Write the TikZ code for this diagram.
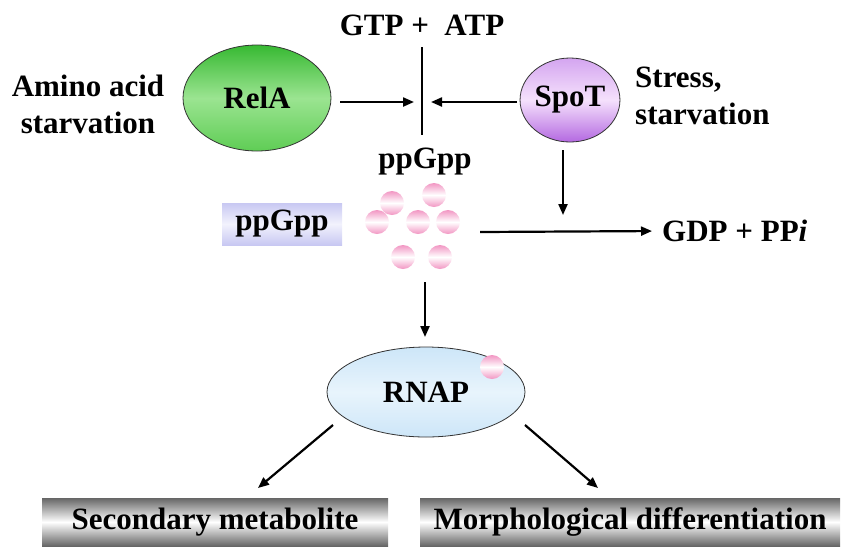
\documentclass[tikz,border=0pt]{standalone}
\usepackage{fontspec}
\setmainfont{Liberation Serif}
\usetikzlibrary{arrows.meta,shapes.geometric}
\definecolor{relatop}{RGB}{55,185,50}
\definecolor{relamid}{RGB}{155,228,145}
\definecolor{relabot}{RGB}{95,205,85}
\definecolor{spottop}{RGB}{212,165,240}
\definecolor{spotmid}{RGB}{245,225,252}
\definecolor{spotbot}{RGB}{180,105,225}
\definecolor{keyedge}{RGB}{200,200,242}
\definecolor{keymid}{RGB}{242,242,253}
\definecolor{rnapedge}{RGB}{205,230,248}
\definecolor{rnapmid}{RGB}{232,244,252}
\definecolor{ballpink}{RGB}{242,150,195}
\tikzset{
  lbl/.style={font=\fontsize{31}{37}\selectfont\bfseries, inner sep=0pt},
  arr/.style={line width=2.2pt, -{Triangle[length=11pt,width=9pt]}},
  ball/.style={shading=axis, top color=ballpink, bottom color=ballpink, middle color=white},
  metal/.style={shading=axis, top color=black!60, bottom color=black!60, middle color=white}
}
\begin{document}
\begin{tikzpicture}[x=1pt,y=-1pt]
  \useasboundingbox (0,0) rectangle (845,547);
  %%%%% START %%%%%

  % enzymes
  \node[lbl, ellipse, minimum width=148pt, minimum height=106pt, draw=black!80, line width=0.8pt,
        top color=relatop, bottom color=relabot, middle color=relamid] (rela) at (257,98) {RelA};
  \node[lbl, ellipse, minimum width=95pt, minimum height=84pt, draw=black!80, line width=0.8pt,
        top color=spottop, bottom color=spotbot, middle color=spotmid] (spot) at (570,100) {SpoT};
  \node[lbl, align=center] (amino) at (88,104) {Amino acid\\starvation};
  \node[lbl, align=left, anchor=west] (stress) at (635,96) {Stress,\\starvation};

  % synthesis
  \node[lbl] (gtp) at (422,25) {GTP +~ ATP};
  \coordinate (bartop) at (422,47);
  \coordinate (barbot) at (422,135);
  \draw[line width=2.2pt] (bartop) -- (barbot);
  \coordinate (barl) at (414,102);
  \coordinate (barr) at (431,102);
  \draw[arr] (340,102) coordinate (rela-e) -- (barl);
  \draw[arr] (517,102) coordinate (spot-w) -- (barr);
  \node[lbl] (ppgpp) at (425,162) {ppGpp};

  % ppGpp pool
  \node[lbl, minimum width=120pt, minimum height=42pt, shading=axis,
        top color=keyedge, bottom color=keyedge, middle color=keymid] (key) at (282,224) {ppGpp};
  \foreach \bx/\by [count=\i] in {392/203, 434/195, 377/222, 418/222, 448/222, 403/257, 440/257}
    \shade[ball] (\bx,\by) circle (12);

  % degradation
  \coordinate (spot-s) at (563,150);
  \coordinate (join) at (563,215);
  \draw[arr] (spot-s) -- (join);
  \node[lbl, anchor=west] (gdp) at (662,231) {GDP + PP\textit{i}};
  \draw[arr, shorten >=10pt] (480,232) -- (gdp.west);

  % RNA polymerase
  \coordinate (pool) at (425,282);
  \node[lbl, ellipse, minimum width=198pt, minimum height=90pt, draw=black!80, line width=0.8pt,
        top color=rnapedge, bottom color=rnapedge, middle color=rnapmid] (rnap) at (426,392) {RNAP};
  \draw[arr] (pool) -- (425,337);
  \shade[ball] (492,367) circle (12);

  % outputs
  \node[lbl, metal, minimum width=346pt, minimum height=48pt] (sec) at (215,522) {Secondary metabolite};
  \node[lbl, metal, minimum width=420pt, minimum height=48pt] (morph) at (630,522) {Morphological differentiation};
  \draw[arr] (333,425) -- (258,488);
  \draw[arr] (525,425) -- (598,488);

  %%%%% END %%%%%
\end{tikzpicture}
\end{document}
